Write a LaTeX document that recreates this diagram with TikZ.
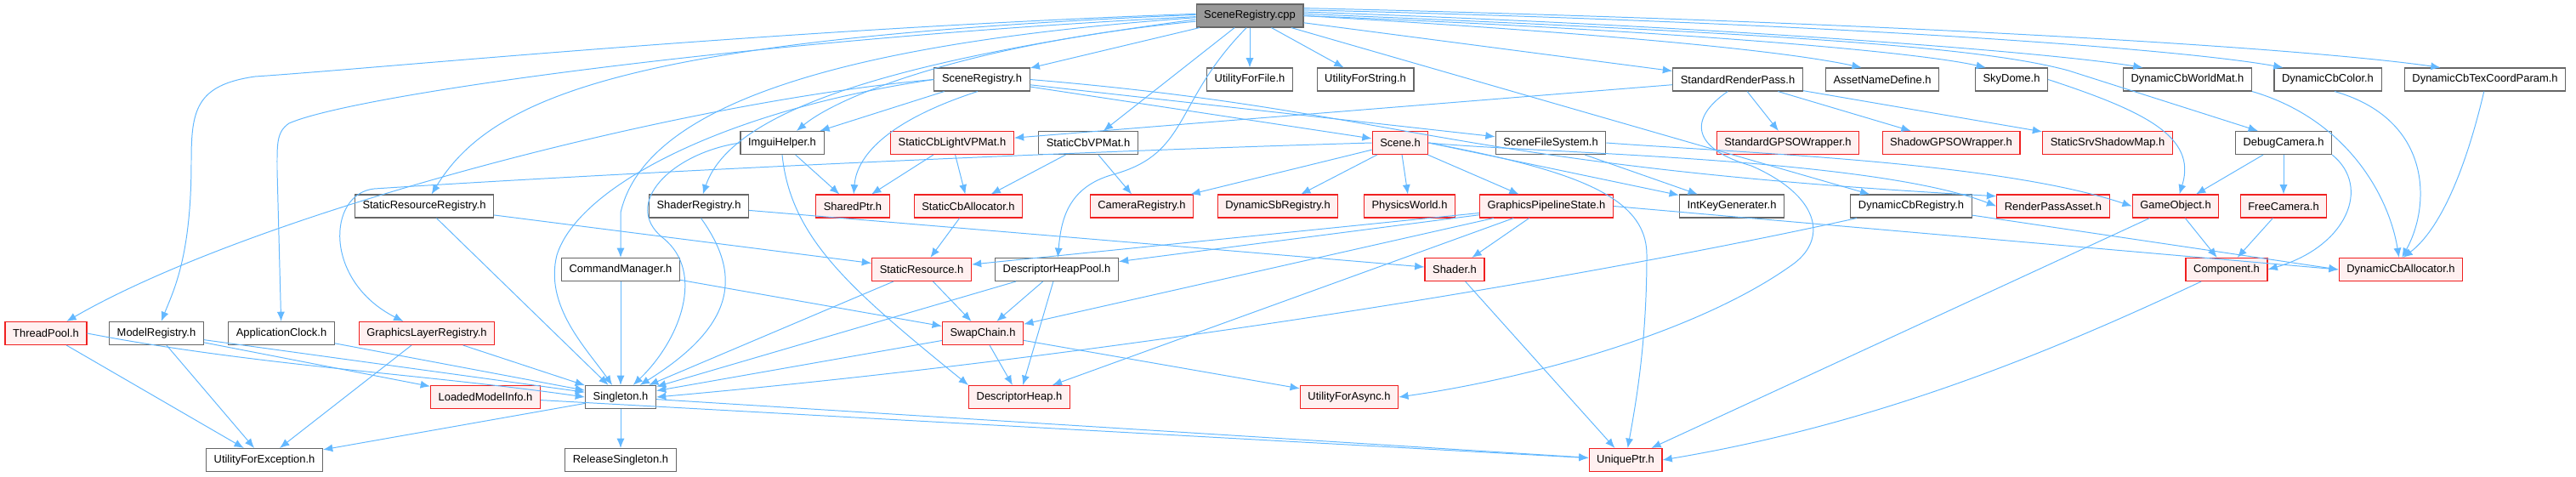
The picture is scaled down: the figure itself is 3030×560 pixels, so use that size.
\documentclass[tikz,border=0pt]{standalone}
\usepackage{fontspec}
\setmainfont{Liberation Sans}
\usetikzlibrary{arrows.meta}
\definecolor{edgeblue}{HTML}{63B8FF}
\definecolor{boxgray}{HTML}{666666}
\definecolor{rootgray}{HTML}{999999}
\definecolor{cutfill}{HTML}{FFF0F0}
\definecolor{cutred}{HTML}{F02020}

\begin{document}
\begin{tikzpicture}[x=0.025cm,y=-0.025cm,>={Latex[length=8pt,width=6.5pt]},
  hdr/.style={draw=boxgray,line width=0.8pt,fill=white,minimum height=0.675cm,inner xsep=6.5pt,inner ysep=0pt,font=\fontsize{9.2}{11}\selectfont},
  cuthdr/.style={hdr,draw=cutred,fill=cutfill},
  roothdr/.style={hdr,fill=rootgray},
  dep/.style={->,draw=edgeblue,line width=0.7pt}]
\useasboundingbox (0,0) rectangle (3030,560);

\node[roothdr] (cpp) at (1470,18.5) {SceneRegistry.cpp};

\node[hdr] (sregh) at (1155,93.5) {SceneRegistry.h};
\node[hdr] (ufile) at (1470,93.5) {UtilityForFile.h};
\node[hdr] (ustr) at (1606,93.5) {UtilityForString.h};
\node[hdr] (srpass) at (2044,93.5) {StandardRenderPass.h};
\node[hdr] (asset) at (2214,93.5) {AssetNameDefine.h};
\node[hdr] (sky) at (2366,93.5) {SkyDome.h};
\node[hdr] (cbworld) at (2573,93.5) {DynamicCbWorldMat.h};
\node[hdr] (cbcolor) at (2738,93.5) {DynamicCbColor.h};
\node[hdr] (cbtex) at (2923,93.5) {DynamicCbTexCoordParam.h};

\node[hdr] (imgui) at (920,168) {ImguiHelper.h};
\node[cuthdr] (lightvp) at (1120,168) {StaticCbLightVPMat.h};
\node[hdr] (vpmat) at (1280,168) {StaticCbVPMat.h};
\node[cuthdr] (scene) at (1647,168) {Scene.h};
\node[hdr] (sfs) at (1824,168) {SceneFileSystem.h};
\node[cuthdr] (stdgpso) at (2103,168) {StandardGPSOWrapper.h};
\node[cuthdr] (shgpso) at (2295,168) {ShadowGPSOWrapper.h};
\node[cuthdr] (shadowmap) at (2479,168) {StaticSrvShadowMap.h};
\node[hdr] (dcam) at (2686,168) {DebugCamera.h};

\node[hdr] (sresreg) at (499,242.5) {StaticResourceRegistry.h};
\node[hdr] (shreg) at (822,242.5) {ShaderRegistry.h};
\node[cuthdr] (sptr) at (1003,242.5) {SharedPtr.h};
\node[cuthdr] (cballoc) at (1139,242.5) {StaticCbAllocator.h};
\node[cuthdr] (camreg) at (1343,242.5) {CameraRegistry.h};
\node[cuthdr] (sbreg) at (1503,242.5) {DynamicSbRegistry.h};
\node[cuthdr] (phys) at (1658,242.5) {PhysicsWorld.h};
\node[cuthdr] (gps) at (1819,242.5) {GraphicsPipelineState.h};
\node[hdr] (intkey) at (2037,242.5) {IntKeyGenerater.h};
\node[hdr] (dcbreg) at (2248,242.5) {DynamicCbRegistry.h};
\node[cuthdr] (rpasset) at (2415,242.5) {RenderPassAsset.h};
\node[cuthdr] (gobj) at (2559,242.5) {GameObject.h};
\node[cuthdr] (fcam) at (2686,242.5) {FreeCamera.h};

\node[hdr] (cmdmgr) at (730,317) {CommandManager.h};
\node[cuthdr] (sres) at (1084,317) {StaticResource.h};
\node[hdr] (dhpool) at (1243,317) {DescriptorHeapPool.h};
\node[cuthdr] (shader) at (1711,317) {Shader.h};
\node[cuthdr] (comp) at (2619,317) {Component.h};
\node[cuthdr] (dcballoc) at (2824,317) {DynamicCbAllocator.h};

\node[cuthdr] (tpool) at (54,392) {ThreadPool.h};
\node[hdr] (modelreg) at (184,392) {ModelRegistry.h};
\node[hdr] (appclock) at (331,392) {ApplicationClock.h};
\node[cuthdr] (glreg) at (502,392) {GraphicsLayerRegistry.h};
\node[cuthdr] (swap) at (1156,392) {SwapChain.h};

\node[cuthdr] (loaded) at (571,467) {LoadedModelInfo.h};
\node[hdr] (single) at (730,467) {Singleton.h};
\node[cuthdr] (dheap) at (1199,467) {DescriptorHeap.h};
\node[cuthdr] (uasync) at (1587,467) {UtilityForAsync.h};

\node[hdr] (uexc) at (311,541) {UtilityForException.h};
\node[hdr] (relsingle) at (730,541) {ReleaseSingleton.h};
\node[cuthdr] (uptr) at (1912,541) {UniquePtr.h};

\draw[dep] (cpp) -- (sregh);
\draw[dep] (cpp) -- (ufile);
\draw[dep] (cpp) -- (ustr);
\draw[dep] (cpp) -- (srpass);
\draw[dep] (cpp.east) .. controls (1900,40) and (2100,60) .. (asset.150);
\draw[dep] (cpp.east) .. controls (1950,35) and (2250,60) .. (sky.155);
\draw[dep] (cpp.4) .. controls (2000,30) and (2400,60) .. (cbworld.165);
\draw[dep] (cpp.6) .. controls (2100,25) and (2550,55) .. (cbcolor.165);
\draw[dep] (cpp.8) .. controls (2200,25) and (2700,55) .. (cbtex.165);
\draw[dep] (cpp.2) .. controls (2100,40) and (2330,55) .. (2433,83) -- (dcam.155);
\draw[dep] (cpp) -- (vpmat);
\draw[dep] (cpp) -- (dcbreg);
\draw[dep] (cpp.178) .. controls (900,35) and (450,80) .. (300,90) .. controls (230,100) and (225,130) .. (225,190) .. controls (225,300) and (205,340) .. (modelreg);
\draw[dep] (cpp.181) .. controls (900,45) and (420,110) .. (340,145) .. controls (325,155) and (326,170) .. (326,200) -- (appclock);
\draw[dep] (cpp.179) .. controls (750,45) and (580,110) .. (sresreg);
\draw[dep] (cpp.182) .. controls (1000,50) and (760,120) .. (730,250) -- (cmdmgr);
\draw[dep] (cpp.184) .. controls (1050,70) and (860,130) .. (shreg);
\draw[dep] (cpp.186) .. controls (1150,50) and (990,110) .. (imgui);
\draw[dep] (cpp.255) .. controls (1380,120) and (1400,180) .. (1310,205) .. controls (1255,220) and (1248,260) .. (dhpool);

\draw[dep] (sregh.west) .. controls (800,120) and (300,250) .. (tpool);
\draw[dep] (sregh.west) .. controls (850,130) and (680,220) .. (655,300) .. controls (640,360) and (690,410) .. (single);
\draw[dep] (sregh) -- (imgui);
\draw[dep] (sregh.250) .. controls (1050,140) and (1008,180) .. (sptr);
\draw[dep] (sregh) -- (scene);
\draw[dep] (sregh) -- (sfs);
\draw[dep] (sregh.east) .. controls (1650,130) and (1700,195) .. (rpasset.170);

\draw[dep] (srpass) -- (lightvp);
\draw[dep] (srpass) -- (stdgpso);
\draw[dep] (srpass) -- (shgpso);
\draw[dep] (srpass) -- (shadowmap);
\draw[dep] (srpass.230) .. controls (1985,140) and (1990,175) .. (2060,195) .. controls (2140,230) and (2150,280) .. (2110,310) .. controls (2000,390) and (1800,445) .. (uasync.east);

\draw[dep] (sky.east) .. controls (2520,130) and (2585,160) .. (gobj);
\draw[dep] (cbworld.south east) .. controls (2760,140) and (2810,230) .. (dcballoc);
\draw[dep] (cbcolor.300) .. controls (2860,140) and (2860,240) .. (dcballoc.85);
\draw[dep] (cbtex.265) .. controls (2900,200) and (2870,270) .. (dcballoc.80);

\draw[dep] (imgui) -- (sptr);
\draw[dep] (imgui.south) .. controls (930,280) and (1000,340) .. (dheap.north west);
\draw[dep] (imgui.west) .. controls (790,180) and (730,240) .. (780,280) .. controls (830,320) and (800,400) .. (single);
\draw[dep] (lightvp) -- (sptr);
\draw[dep] (lightvp) -- (cballoc);
\draw[dep] (vpmat) -- (cballoc);
\draw[dep] (vpmat) -- (camreg);

\draw[dep] (scene.west) .. controls (1200,180) and (700,205) .. (440,222) .. controls (385,228) and (380,330) .. (glreg);
\draw[dep] (scene) -- (camreg);
\draw[dep] (scene) -- (sbreg);
\draw[dep] (scene) -- (phys);
\draw[dep] (scene) -- (gps);
\draw[dep] (scene.east) -- (intkey);
\draw[dep] (scene.east) .. controls (1850,200) and (1937,230) .. (1937,300) .. controls (1937,400) and (1925,470) .. (uptr);
\draw[dep] (scene.east) .. controls (1800,180) and (2200,185) .. (rpasset.west);
\draw[dep] (sfs) -- (intkey);
\draw[dep] (sfs.east) .. controls (2050,180) and (2350,190) .. (gobj.west);

\draw[dep] (dcam) -- (gobj);
\draw[dep] (dcam) -- (fcam);
\draw[dep] (dcam.south east) .. controls (2790,220) and (2760,290) .. (comp.east);

\draw[dep] (sresreg) -- (sres);
\draw[dep] (sresreg) -- (single);
\draw[dep] (shreg) -- (shader);
\draw[dep] (shreg.280) .. controls (870,320) and (870,380) .. (single);
\draw[dep] (cballoc) -- (sres);
\draw[dep] (gps) -- (sres);
\draw[dep] (gps) -- (dhpool);
\draw[dep] (gps) -- (swap);
\draw[dep] (gps) -- (dheap);
\draw[dep] (gps) -- (shader);
\draw[dep] (gps.east) -- (dcballoc.west);
\draw[dep] (dcbreg) .. controls (1850,330) and (1300,420) .. (single.east);
\draw[dep] (dcbreg) -- (dcballoc.west);
\draw[dep] (gobj) -- (comp);
\draw[dep] (gobj) -- (uptr);
\draw[dep] (fcam) -- (comp);

\draw[dep] (cmdmgr) -- (single);
\draw[dep] (cmdmgr) -- (swap);
\draw[dep] (sres) -- (swap);
\draw[dep] (sres) -- (single);
\draw[dep] (dhpool) -- (swap);
\draw[dep] (dhpool) -- (dheap);
\draw[dep] (dhpool) -- (single);
\draw[dep] (shader) -- (uptr);
\draw[dep] (comp) .. controls (2400,420) and (2200,500) .. (uptr.east);

\draw[dep] (tpool.east) .. controls (300,430) and (500,440) .. (single.west);
\draw[dep] (tpool) -- (uexc);
\draw[dep] (modelreg) -- (single);
\draw[dep] (modelreg) -- (loaded);
\draw[dep] (modelreg) -- (uexc);
\draw[dep] (appclock) -- (single);
\draw[dep] (glreg) -- (single);
\draw[dep] (glreg) -- (uexc);
\draw[dep] (swap) -- (dheap);
\draw[dep] (swap) -- (single);
\draw[dep] (swap) -- (uasync);

\draw[dep] (loaded) -- (uptr);
\draw[dep] (single) -- (relsingle);
\draw[dep] (single) -- (uexc);
\draw[dep] (single) -- (uptr);
\end{tikzpicture}
\end{document}
